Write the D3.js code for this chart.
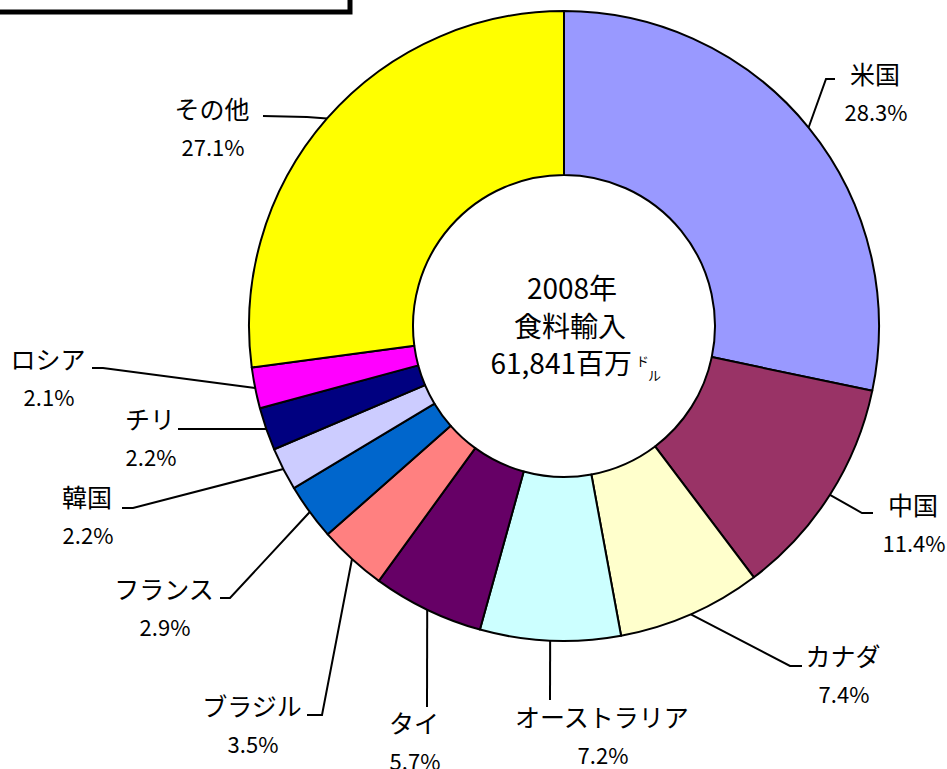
<!DOCTYPE html>
<html>
<head>
<meta charset="utf-8">
<script src="https://cdn.jsdelivr.net/npm/d3@7"></script>
<style>
  body { margin: 0; background: #fff; }
  text { font-family: "Noto Sans CJK JP", "Noto Sans", sans-serif; fill: #000; }
</style>
</head>
<body>
<svg id="chart" width="947" height="769"></svg>
<script>
// données : part des importations alimentaires 2008 (%)
var pays = ["米国", "中国", "カナダ", "オーストラリア", "タイ", "ブラジル", "フランス", "韓国", "チリ", "ロシア", "その他"];
var parts = [28.3, 11.4, 7.4, 7.2, 5.7, 3.5, 2.9, 2.2, 2.2, 2.1, 27.1];
var couleurs = ["#9999ff", "#993366", "#ffffcc", "#ccffff", "#660066", "#ff8080", "#0066cc", "#ccccff", "#000080", "#ff00ff", "#ffff00"];
var centre = ["2008年", "食料輸入", "61,841百万"];

// placement des étiquettes (coude, fin du trait, centre du texte)
var etiquettes = [
  {coude: [826, 79],  fin: [835, 79],  tx: 875, ty: 75},
  {coude: [862, 513], fin: [873, 513], tx: 913, ty: 506},
  {coude: [790, 666], fin: [802, 666], tx: 843, ty: 657},
  {coude: [550, 700], fin: [550, 700], tx: 602, ty: 718},
  {coude: [427, 707], fin: [427, 707], tx: 414, ty: 724},
  {coude: [322, 715], fin: [307, 715], tx: 252, ty: 707},
  {coude: [230, 598], fin: [220, 598], tx: 164, ty: 590},
  {coude: [133, 508], fin: [122, 508], tx: 87,  ty: 498},
  {coude: [178, 429], fin: [178, 429], tx: 150, ty: 420},
  {coude: [103, 368], fin: [92, 368],  tx: 48,  ty: 360},
  {coude: [307, 117], fin: [263, 116], tx: 212, ty: 110}
];

var svg = d3.select("#chart");
var cx = 564, cy = 326, rayon = 315, rayonInt = 151;

// cadre du titre (coupé en haut)
svg.append("rect")
  .attr("x", -10).attr("y", -10)
  .attr("width", 360).attr("height", 22)
  .attr("fill", "#fff")
  .attr("stroke", "#000")
  .attr("stroke-width", 5);

var g = svg.append("g").attr("transform", "translate(" + cx + "," + cy + ")");

var pie = d3.pie().sort(null).value(function(d) { return d; });
var arcs = pie(parts);

var arc = d3.arc().innerRadius(rayonInt).outerRadius(rayon);

g.selectAll("path.part")
  .data(arcs)
  .enter().append("path")
  .attr("class", "part")
  .attr("d", arc)
  .attr("fill", function(d, i) { return couleurs[i]; })
  .attr("stroke", "#000")
  .attr("stroke-width", 2)
  .attr("stroke-linejoin", "round");

// traits de rappel
var ligne = d3.line();
arcs.forEach(function(d, i) {
  var a = (d.startAngle + d.endAngle) / 2;
  var p0 = [cx + rayon * Math.sin(a), cy - rayon * Math.cos(a)];
  var e = etiquettes[i];
  svg.append("path")
    .attr("d", ligne([p0, e.coude, e.fin]))
    .attr("fill", "none")
    .attr("stroke", "#000")
    .attr("stroke-width", 2);

  svg.append("text")
    .attr("x", e.tx).attr("y", e.ty)
    .attr("dy", "0.35em")
    .attr("text-anchor", "middle")
    .style("font-size", "25px")
    .text(pays[i]);
  svg.append("text")
    .attr("x", e.tx + 1).attr("y", e.ty + 38)
    .attr("dy", "0.35em")
    .attr("text-anchor", "middle")
    .style("font-size", "22px")
    .text(d3.format(".1f")(parts[i]) + "%");
});

// texte central
var tc = svg.append("g");
tc.append("text").attr("x", cx + 8).attr("y", cy - 37).attr("dy", "0.35em")
  .attr("text-anchor", "middle").style("font-size", "28px").text(centre[0]);
tc.append("text").attr("x", cx + 6).attr("y", cy + 1).attr("dy", "0.35em")
  .attr("text-anchor", "middle").style("font-size", "28px").text(centre[1]);
tc.append("text").attr("x", 632).attr("y", cy + 38).attr("dy", "0.35em")
  .attr("text-anchor", "end").style("font-size", "28px").text(centre[2]);
tc.append("text").attr("x", 636).attr("y", 366)
  .style("font-size", "13px").text("ド");
tc.append("text").attr("x", 648).attr("y", 380)
  .style("font-size", "13px").text("ル");
</script>
</body>
</html>
